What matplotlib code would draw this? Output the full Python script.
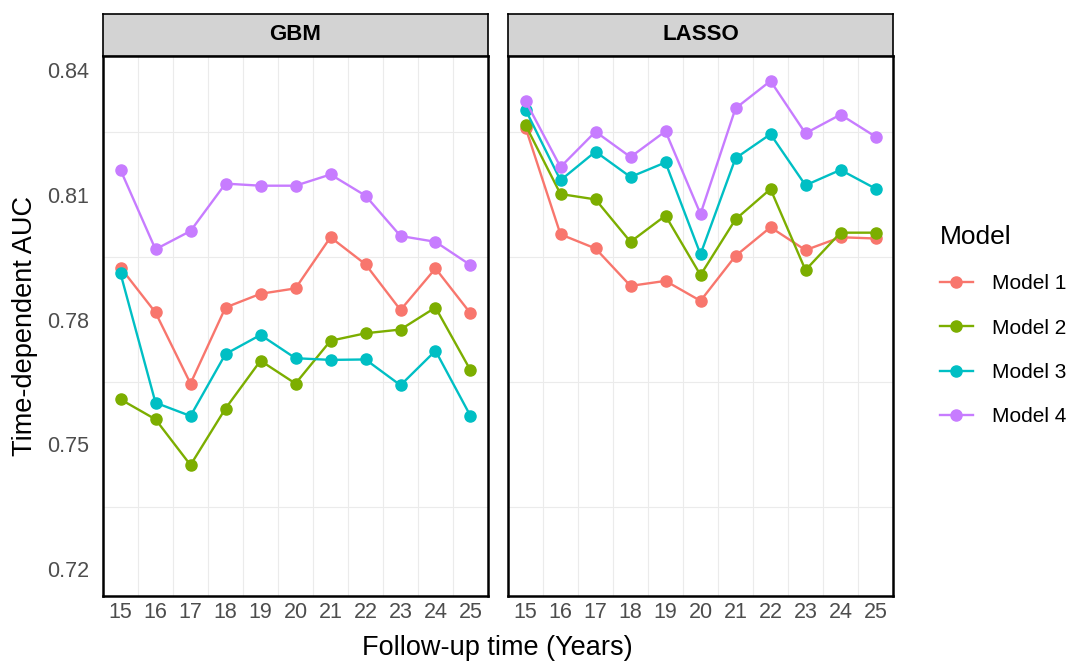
import numpy as np
import matplotlib
matplotlib.use("Agg")
import matplotlib.pyplot as plt

plt.rcParams['font.family'] = ['Liberation Sans', 'DejaVu Sans']

years = [15, 16, 17, 18, 19, 20, 21, 22, 23, 24, 25]
models = ["Model 1", "Model 2", "Model 3", "Model 4"]
colors = ["#F8766D", "#7CAE00", "#00BFC4", "#C77CFF"]

gbm_m1 = [0.7925, 0.7817, 0.7646, 0.7829, 0.7862, 0.7875, 0.7998, 0.7933, 0.7823, 0.7923, 0.7815]
gbm_m2 = [0.7608, 0.7560, 0.7450, 0.7586, 0.7701, 0.7646, 0.7749, 0.7767, 0.7776, 0.7829, 0.7678]
gbm_m3 = [0.7911, 0.7600, 0.7568, 0.7717, 0.7763, 0.7707, 0.7703, 0.7704, 0.7642, 0.7725, 0.7568]
gbm_m4 = [0.8160, 0.7969, 0.8013, 0.8127, 0.8122, 0.8122, 0.8149, 0.8098, 0.8001, 0.7987, 0.7931]

lasso_m1 = [0.8262, 0.8005, 0.7971, 0.7881, 0.7893, 0.7845, 0.7953, 0.8022, 0.7967, 0.7998, 0.7995]
lasso_m2 = [0.8268, 0.8102, 0.8089, 0.7987, 0.8050, 0.7907, 0.8041, 0.8114, 0.7919, 0.8009, 0.8009]
lasso_m3 = [0.8305, 0.8135, 0.8204, 0.8143, 0.8178, 0.7957, 0.8188, 0.8246, 0.8123, 0.8160, 0.8115]
lasso_m4 = [0.8326, 0.8167, 0.8252, 0.8191, 0.8253, 0.8054, 0.8308, 0.8374, 0.8248, 0.8293, 0.8240]

panels = [("GBM", [gbm_m1, gbm_m2, gbm_m3, gbm_m4]),
          ("LASSO", [lasso_m1, lasso_m2, lasso_m3, lasso_m4])]

y_ticks = [0.72, 0.75, 0.78, 0.81, 0.84]
y_grid = [0.735, 0.765, 0.795, 0.825]

fig = plt.figure(figsize=(10.75, 6.62), dpi=100)

W, H = 1075, 662
lefts = [103, 508]
pw = 385
ptop, pbot = 56, 596
strip_top = 14

handles = []
for k, (name, series) in enumerate(panels):
    ax = fig.add_axes([lefts[k] / W, 1 - pbot / H, pw / W, (pbot - ptop) / H])
    for x in np.arange(15.5, 25, 1.0):
        ax.axvline(x, color="#EBEBEB", lw=0.8, zorder=0)
    for y in y_grid:
        ax.axhline(y, color="#EBEBEB", lw=0.8, zorder=0)
    for vals, c, lab in zip(series, colors, models):
        ln, = ax.plot(years, vals, "-o", color=c, lw=1.7, ms=8, label=lab, zorder=3)
        if k == 0:
            handles.append(ln)
    ax.set_xlim(14.5, 25.5)
    ax.set_ylim(0.7135, 0.8434)
    ax.set_xticks(years)
    ax.set_xticklabels([str(y) for y in years])
    ax.set_yticks(y_ticks)
    if k == 0:
        ax.set_yticklabels(["%.2f" % v for v in y_ticks])
    else:
        ax.set_yticklabels([])
    ax.tick_params(length=0, labelsize=15.5, labelcolor="#4D4D4D")
    ax.tick_params(axis="x", pad=4)
    ax.tick_params(axis="y", pad=10)
    for sp in ax.spines.values():
        sp.set_linewidth(1.8)
        sp.set_color("black")

    # facet strip
    sx = fig.add_axes([lefts[k] / W, 1 - ptop / H, pw / W, (ptop - strip_top) / H])
    sx.set_facecolor("#D3D3D3")
    sx.set_xticks([])
    sx.set_yticks([])
    for sp in sx.spines.values():
        sp.set_linewidth(1.2)
        sp.set_color("black")
    sx.text(0.5, 0.5, name, ha="center", va="center", fontsize=16,
            fontweight="bold", transform=sx.transAxes)

fig.text(497.5 / W, 1 - 648 / H, "Follow-up time (Years)", ha="center", va="center", fontsize=19.5)
fig.text(25 / W, 1 - 326 / H, "Time-dependent AUC", ha="center", va="center",
         rotation=90, fontsize=19.5)

leg = fig.legend(handles=handles, labels=models, title="Model",
                 loc="upper left", bbox_to_anchor=(921 / W, 1 - 206 / H),
                 frameon=False, fontsize=15, title_fontsize=19,
                 handlelength=1.6, handletextpad=0.9, labelspacing=1.22,
                 alignment="left")

fig.savefig("out.png", dpi=100)
